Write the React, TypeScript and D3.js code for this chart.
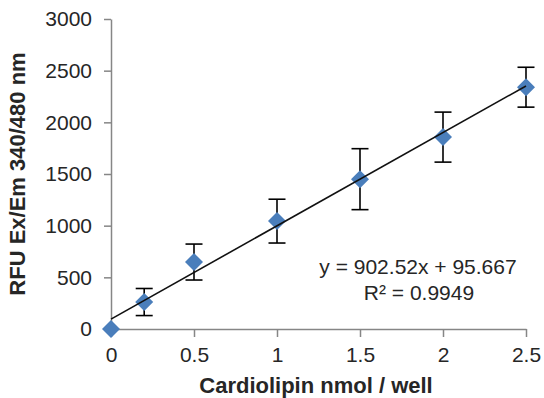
import { ScaleLinear, axisBottom, axisLeft, line, scaleLinear, select } from "d3";
import { useEffect, useRef } from "react";

const xValues = [0, 0.2, 0.5, 1, 1.5, 2, 2.5];
const yValues = [0, 261, 648, 1044, 1450, 1857, 2340];
const yErrors = [0, 131, 174, 212, 295, 242, 193];
const xTicks = [0, 0.5, 1, 1.5, 2, 2.5];
const yTicks = [0, 500, 1000, 1500, 2000, 2500, 3000];
const slope = 902.52;
const intercept = 95.667;

const axisColor = "#868686";
const textColor = "#262626";
const markerColor = "#4a7ebb";
const font = "'Liberation Sans', Arial, sans-serif";

function XAxis({ scale, y }: { scale: ScaleLinear<number, number>; y: number }) {
  const ref = useRef<SVGGElement>(null);
  useEffect(() => {
    if (!ref.current) return;
    const g = select(ref.current);
    g.call(
      axisBottom(scale)
        .tickValues(xTicks)
        .tickSize(8)
        .tickSizeOuter(0)
        .tickPadding(10)
        .tickFormat((d) => String(d))
    );
    g.select(".domain").attr("stroke", axisColor).attr("stroke-width", 1.5);
    g.selectAll(".tick line").attr("stroke", axisColor).attr("stroke-width", 1.5);
    g.selectAll(".tick text")
      .attr("fill", textColor)
      .style("font-family", font)
      .style("font-size", "21px");
  }, [scale]);
  return <g ref={ref} transform={`translate(0,${y})`} />;
}

function YAxis({ scale, x }: { scale: ScaleLinear<number, number>; x: number }) {
  const ref = useRef<SVGGElement>(null);
  useEffect(() => {
    if (!ref.current) return;
    const g = select(ref.current);
    g.call(
      axisLeft(scale)
        .tickValues(yTicks)
        .tickSize(7)
        .tickSizeOuter(0)
        .tickPadding(12)
        .tickFormat((d) => String(d))
    );
    g.select(".domain").attr("stroke", axisColor).attr("stroke-width", 1.5);
    g.selectAll(".tick line").attr("stroke", axisColor).attr("stroke-width", 1.5);
    g.selectAll(".tick text")
      .attr("fill", textColor)
      .style("font-family", font)
      .style("font-size", "21px");
  }, [scale]);
  return <g ref={ref} transform={`translate(${x},0)`} />;
}

export default function App() {
  const left = 111;
  const right = 526;
  const top = 19;
  const bottom = 329;

  const scaleX = scaleLinear().domain([0, 2.5]).range([left, right]);
  const scaleY = scaleLinear().domain([0, 3000]).range([bottom, top]);

  const trend = line<number>()
    .x((d) => scaleX(d))
    .y((d) => scaleY(slope * d + intercept));

  const cap = 8.5;
  const r = 9;

  return (
    <svg
      width={544}
      height={398}
      style={{ position: "absolute", left: 0, top: 0, background: "#fff" }}
    >
      <YAxis scale={scaleY} x={left} />
      <XAxis scale={scaleX} y={bottom} />

      {xValues.map((x, i) =>
        yErrors[i] > 0 ? (
          <g key={"err" + i} stroke="#000" strokeWidth={1.6}>
            <line
              x1={scaleX(x)}
              x2={scaleX(x)}
              y1={scaleY(yValues[i] - yErrors[i])}
              y2={scaleY(yValues[i] + yErrors[i])}
            />
            <line
              x1={scaleX(x) - cap}
              x2={scaleX(x) + cap}
              y1={scaleY(yValues[i] + yErrors[i])}
              y2={scaleY(yValues[i] + yErrors[i])}
            />
            <line
              x1={scaleX(x) - cap}
              x2={scaleX(x) + cap}
              y1={scaleY(yValues[i] - yErrors[i])}
              y2={scaleY(yValues[i] - yErrors[i])}
            />
          </g>
        ) : null
      )}

      {xValues.map((x, i) => (
        <path
          key={"pt" + i}
          d={`M${scaleX(x)},${scaleY(yValues[i]) - r}L${scaleX(x) + r},${scaleY(yValues[i])}L${scaleX(x)},${scaleY(yValues[i]) + r}L${scaleX(x) - r},${scaleY(yValues[i])}Z`}
          fill={markerColor}
        />
      ))}

      <path
        d={trend([0, 2.5]) ?? ""}
        fill="none"
        stroke="#111"
        strokeWidth={1.6}
      />

      <g fontFamily={font} fill={textColor} fontSize={21} textAnchor="middle">
        <text x={418} y={274}>
          y = 902.52x + 95.667
        </text>
        <text x={419} y={300}>
          R² = 0.9949
        </text>
      </g>

      <text
        x={316}
        y={393}
        textAnchor="middle"
        fontFamily={font}
        fontWeight="bold"
        fontSize={22}
        fill={textColor}
      >
        Cardiolipin nmol / well
      </text>
      <text
        transform="translate(25,174) rotate(-90)"
        textAnchor="middle"
        fontFamily={font}
        fontWeight="bold"
        fontSize={22}
        fill={textColor}
      >
        RFU Ex/Em 340/480 nm
      </text>
    </svg>
  );
}
